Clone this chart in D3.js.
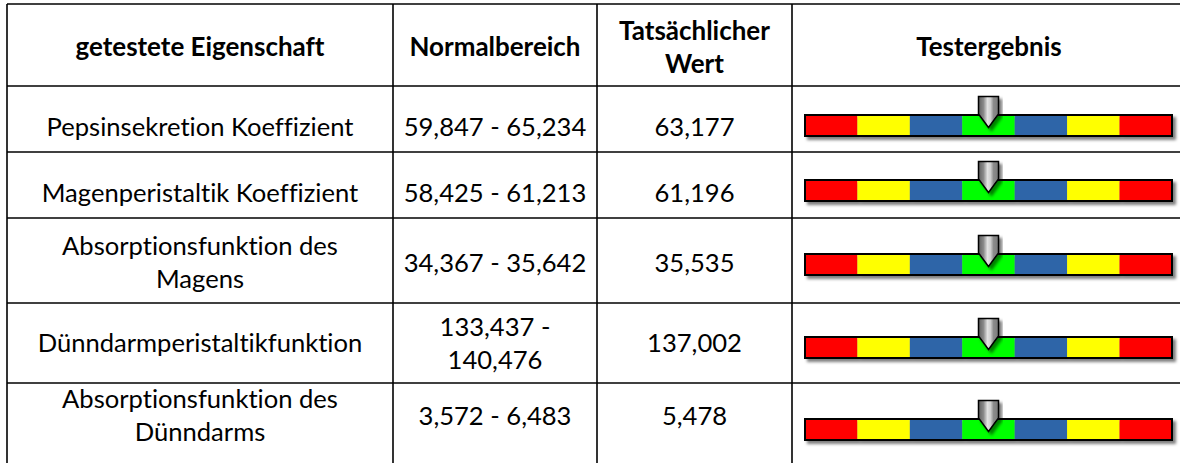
<!DOCTYPE html>
<html>
<head>
<meta charset="utf-8">
<script src="https://cdn.jsdelivr.net/npm/d3@7"></script>
<style>
  html, body { margin: 0; padding: 0; background: #fff; }
  svg { display: block; }
  text { font-variant-ligatures: none; font-feature-settings: "liga" 0, "clig" 0; }
</style>
</head>
<body>
<div id="chart"></div>
<script>
// 표 데이터
const headers = ["getestete Eigenschaft", "Normalbereich", "Tatsächlicher Wert", "Testergebnis"];
const properties = [
  "Pepsinsekretion Koeffizient",
  "Magenperistaltik Koeffizient",
  "Absorptionsfunktion des Magens",
  "Dünndarmperistaltikfunktion",
  "Absorptionsfunktion des Dünndarms"
];
const rangeLow = [59.847, 58.425, 34.367, 133.437, 3.572];
const rangeHigh = [65.234, 61.213, 35.642, 140.476, 6.483];
const actualValues = [63.177, 61.196, 35.535, 137.002, 5.478];
// 결과 막대의 7개 구간 색상, 그리고 각 행의 표시 구간
const zoneColors = ["#ff0000", "#ffff00", "#2f65a8", "#00ff00", "#2f65a8", "#ffff00", "#ff0000"];
const resultZone = [3, 3, 3, 3, 3];

// 레이아웃
const W = 1180, H = 463;
const colX = [7, 393, 597, 792, 1186];
const TOP = 4;
const rowH = [82, 66, 66, 85, 80, 84];
const textShift = [2, 8, 8, 2, 0, -9.5];
const barShift = [6.5, 5.5, 4, 4.5, 4.5];
const wrapW = [330, 185, 170, 370];
const LINE = 33;
const FONT = "Lato, 'Open Sans', sans-serif";

const de = d3.formatLocale({ decimal: ",", thousands: ".", grouping: [3], currency: ["", " €"] });
const fmt = de.format(".3f");

const rowY = [TOP];
rowH.forEach((h, i) => rowY.push(rowY[i] + h));

const svg = d3.select("#chart").append("svg")
  .attr("width", W).attr("height", H)
  .style("background", "#fff");

const defs = svg.append("defs");
defs.append("filter").attr("id", "shadow")
  .attr("x", "-10%").attr("y", "-40%").attr("width", "130%").attr("height", "200%")
  .append("feDropShadow")
  .attr("dx", 3).attr("dy", 3).attr("stdDeviation", 1.8)
  .attr("flood-color", "#000").attr("flood-opacity", 0.5);

const grad = defs.append("linearGradient").attr("id", "pin")
  .attr("x1", "0%").attr("x2", "100%").attr("y1", "0%").attr("y2", "0%");
[[0, "#5e5e5e"], [0.25, "#8a8a8a"], [0.45, "#e2e2e2"], [0.6, "#cfcfcf"], [0.75, "#8c8c8c"], [1, "#7a7a7a"]]
  .forEach(([o, c]) => grad.append("stop").attr("offset", o).attr("stop-color", c));

// 폰트 크기: 참조 이미지의 글자 폭에 맞춤
const probe = svg.append("text").attr("font-family", FONT).attr("font-size", 100);
function fitSize(str, weight, target) {
  probe.attr("font-weight", weight).text(str);
  return 100 * target / probe.node().getComputedTextLength();
}
const sizeReg = fitSize("Pepsinsekretion Koeffizient", 400, 307);
const sizeBold = fitSize("getestete Eigenschaft", 700, 249);

function wrap(str, weight, size, maxW) {
  probe.attr("font-weight", weight).attr("font-size", size);
  const words = str.split(" ");
  const lines = [];
  let cur = "";
  words.forEach(w => {
    const test = cur ? cur + " " + w : w;
    probe.text(test);
    if (cur && probe.node().getComputedTextLength() > maxW) {
      lines.push(cur);
      cur = w;
    } else {
      cur = test;
    }
  });
  if (cur) lines.push(cur);
  return lines;
}

function cellText(row, col, str, bold) {
  const size = bold ? sizeBold : sizeReg;
  const weight = bold ? 700 : 400;
  const lines = wrap(str, weight, size, wrapW[col]);
  const cx = (colX[col] + colX[col + 1]) / 2;
  const cy = rowY[row] + rowH[row] / 2 + textShift[row];
  const capHalf = size * 0.36;
  svg.append("text")
    .attr("text-anchor", "middle")
    .attr("font-family", FONT)
    .attr("font-size", size)
    .attr("font-weight", weight)
    .attr("fill", "#000")
    .selectAll("tspan")
    .data(lines)
    .join("tspan")
    .attr("x", cx)
    .attr("y", (d, i) => cy - (lines.length - 1) * LINE / 2 + i * LINE + capHalf)
    .text(d => d);
}

// 헤더
headers.forEach((h, c) => cellText(0, c, h, true));

// 본문
properties.forEach((p, i) => {
  const r = i + 1;
  cellText(r, 0, p, false);
  cellText(r, 1, fmt(rangeLow[i]) + " - " + fmt(rangeHigh[i]), false);
  cellText(r, 2, fmt(actualValues[i]), false);
});
probe.remove();

// 결과 막대
const BAR_H = 21;
const zoneX = d3.scaleBand()
  .domain(d3.range(zoneColors.length))
  .range([colX[3] + 13, colX[4] - 14]);

resultZone.forEach((z, i) => {
  const r = i + 1;
  const by = rowY[r] + rowH[r] / 2 + barShift[i] - BAR_H / 2;
  const bar = svg.append("g").attr("filter", "url(#shadow)");
  bar.selectAll("rect.seg")
    .data(zoneColors)
    .join("rect")
    .attr("class", "seg")
    .attr("x", (d, k) => zoneX(k))
    .attr("y", by)
    .attr("width", zoneX.bandwidth())
    .attr("height", BAR_H)
    .attr("fill", d => d);
  bar.append("rect")
    .attr("x", zoneX.range()[0]).attr("y", by)
    .attr("width", zoneX.range()[1] - zoneX.range()[0])
    .attr("height", BAR_H)
    .attr("fill", "none")
    .attr("stroke", "#000")
    .attr("stroke-width", 2);

  // 마커 (핀)
  const cx = zoneX(z) + zoneX.bandwidth() / 2;
  const top = by - 18.5;
  const p = d3.path();
  p.moveTo(cx - 10, top);
  p.lineTo(cx + 10, top);
  p.lineTo(cx + 10, by - 1);
  p.lineTo(cx, by + 12.5);
  p.lineTo(cx - 10, by - 1);
  p.closePath();
  svg.append("path")
    .attr("d", p.toString())
    .attr("fill", "url(#pin)")
    .attr("stroke", "#000")
    .attr("stroke-width", 1.5)
    .attr("stroke-linejoin", "miter")
    .attr("filter", "url(#shadow)");
});

// 표 테두리
const grid = svg.append("g").attr("stroke", "#000").attr("stroke-width", 1.6);
grid.selectAll("line.h")
  .data(rowY)
  .join("line")
  .attr("x1", colX[0]).attr("x2", colX[colX.length - 1])
  .attr("y1", d => d).attr("y2", d => d);
grid.selectAll("line.v")
  .data(colX)
  .join("line")
  .attr("x1", d => d).attr("x2", d => d)
  .attr("y1", TOP).attr("y2", rowY[rowY.length - 1]);
</script>
</body>
</html>
